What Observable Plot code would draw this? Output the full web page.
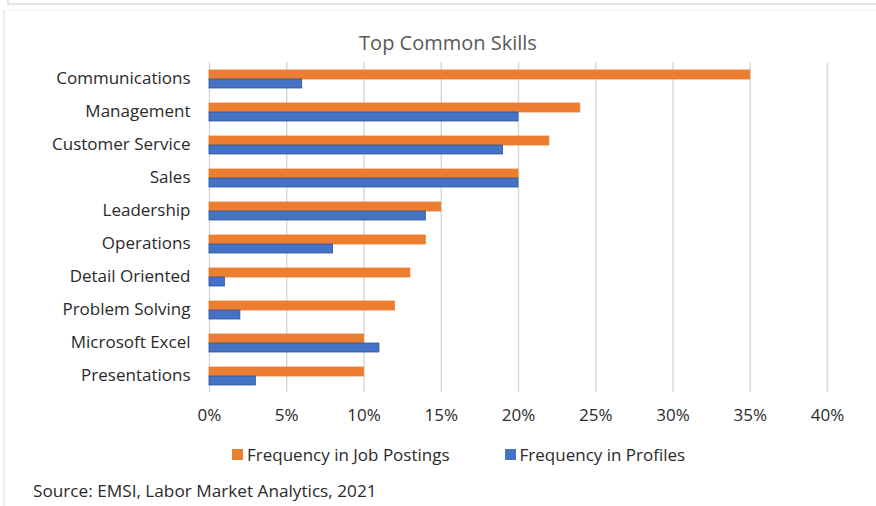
<!DOCTYPE html>
<html>
<head>
<meta charset="utf-8">
<script src="https://cdn.jsdelivr.net/npm/d3@7"></script>
<script src="https://cdn.jsdelivr.net/npm/@observablehq/plot@0.6"></script>
<style>
  html, body { margin: 0; padding: 0; background: #fff; }
  body { width: 876px; height: 506px; position: relative; overflow: hidden; font-family: "Open Sans", Lato, sans-serif; }
  #topbox { position: absolute; left: 7px; top: -10px; width: 880px; height: 13px; border-left: 2px solid #e8e8e8; border-bottom: 2px solid #e4e4e4; }
  #box { position: absolute; left: 3px; top: 10px; width: 880px; height: 500px; border-left: 2px solid #ececec; border-top: 1px solid #f4f4f4; }
  #title { position: absolute; left: 0; top: 29px; width: 896px; text-align: center; font-size: 20px; color: #595959; }
  #chart { position: absolute; left: 0; top: 0; }
  #legend { position: absolute; top: 443px; left: 232px; font-size: 17px; color: #2a2a2a; display: flex; align-items: center; }
  .sw { display: inline-block; width: 11px; height: 11px; margin-right: 4px; }
  .item { display: flex; align-items: center; }
  #caption { position: absolute; left: 33px; top: 479px; font-size: 17.2px; color: #2a2a2a; }
</style>
</head>
<body>
<div id="topbox"></div>
<div id="box"></div>
<div id="chart"></div>
<div id="title">Top Common Skills</div>
<div id="legend"></div>
<div id="caption">Source: EMSI, Labor Market Analytics, 2021</div>
<script>
const skills = ["Communications", "Management", "Customer Service", "Sales", "Leadership", "Operations", "Detail Oriented", "Problem Solving", "Microsoft Excel", "Presentations"];
const series = ["Frequency in Job Postings", "Frequency in Profiles"];
const jobPostings = [35, 24, 22, 20, 15, 14, 13, 12, 10, 10];
const profiles = [6, 20, 19, 20, 14, 8, 1, 2, 11, 3];
const colors = ["#ED7D31", "#4472C4"];
const strokes = ["#F07A2A", "#2F5597"];
const xTicks = [0, 0.05, 0.10, 0.15, 0.20, 0.25, 0.30, 0.35, 0.40];

const data = [];
skills.forEach((s, i) => {
  data.push({skill: s, series: series[0], value: jobPostings[i] / 100});
  data.push({skill: s, series: series[1], value: profiles[i] / 100});
});

const chart = Plot.plot({
  width: 876,
  height: 425,
  marginLeft: 209,
  marginRight: 49,
  marginTop: 62,
  marginBottom: 33,
  style: {fontFamily: "'Open Sans', Lato, sans-serif", fontSize: "17px", color: "#2a2a2a", background: "transparent", overflow: "visible"},
  x: {domain: [0, 0.40], ticks: xTicks, tickFormat: d3.format(".0%"), label: null, tickSize: 0, tickPadding: 16},
  fy: {domain: skills, padding: 0, label: null, tickSize: 0, tickPadding: 19},
  y: {domain: series, axis: null, paddingInner: 0, paddingOuter: 0.74},
  color: {domain: series, range: colors},
  facet: {data: data, y: "skill", marginLeft: 209},
  marks: [
    Plot.gridX(xTicks, {stroke: "#d9d9d9", strokeOpacity: 1, strokeWidth: 1.5}),
    Plot.barX(data, {x: "value", y: "series", fill: "series", stroke: d => d.series === series[0] ? strokes[0] : strokes[1], strokeWidth: 0.8})
  ]
});
document.getElementById("chart").appendChild(chart);

const legend = document.getElementById("legend");
series.forEach((s, i) => {
  const item = document.createElement("span");
  item.className = "item";
  item.style.marginRight = i === 0 ? "55px" : "0";
  item.innerHTML = `<span class="sw" style="background:${colors[i]}"></span>${s}`;
  legend.appendChild(item);
});
</script>
</body>
</html>
